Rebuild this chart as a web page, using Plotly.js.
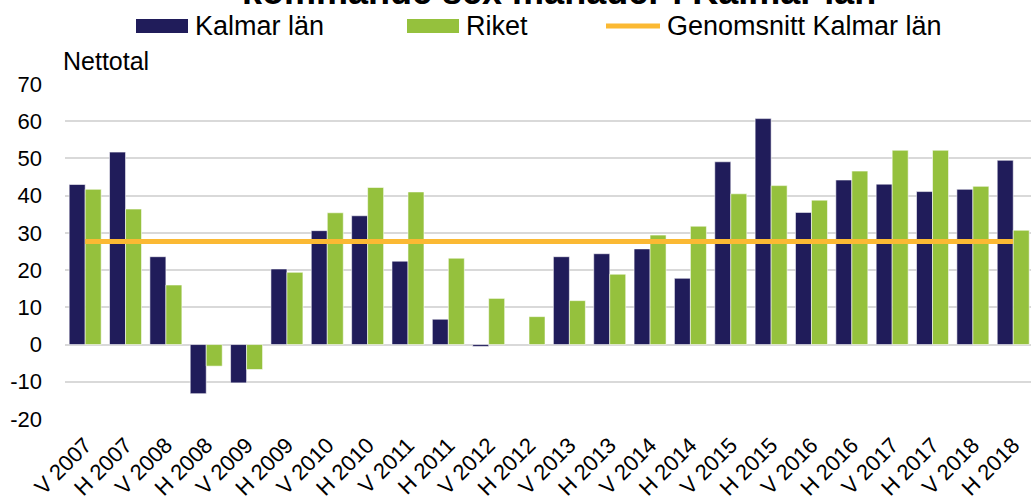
<!DOCTYPE html>
<html>
<head>
<meta charset="utf-8">
<script src="https://cdn.plot.ly/plotly-3.0.1.min.js"></script>
<style>html,body{margin:0;padding:0;background:#fff;}#chart{width:1031px;height:502px;}</style>
</head>
<body>
<div id="chart"></div>
<script>
// ---- data ----
const categories = ["V 2007","H 2007","V 2008","H 2008","V 2009","H 2009","V 2010","H 2010","V 2011","H 2011","V 2012","H 2012","V 2013","H 2013","V 2014","H 2014","V 2015","H 2015","V 2016","H 2016","V 2017","H 2017","V 2018","H 2018"];
const kalmar = [43.0,51.7,23.6,-13.2,-10.3,20.3,30.6,34.6,22.4,6.8,-0.5,null,23.6,24.4,25.7,17.8,49.1,60.7,35.5,44.2,43.1,41.1,41.7,49.5];
const riket  = [41.7,36.4,16.0,-5.8,-6.7,19.4,35.4,42.2,41.0,23.2,12.4,7.5,11.8,18.9,29.4,31.8,40.5,42.7,38.8,46.6,52.2,52.2,42.5,30.7];
const genomsnitt = [27.7,27.7,27.7,27.7,27.7,27.7,27.7,27.7,27.7,27.7,27.7,27.7,27.7,27.7,27.7,27.7,27.7,27.7,27.7,27.7,27.7,27.7,27.7,27.7];
const yTickVals = [-20,-10,0,10,20,30,40,50,60,70];
const yTickText = ["-20","-10","0","10","20","30","40","50","60","70"];
const seriesNames = ["Kalmar län","Riket","Genomsnitt Kalmar län"];
const titleText = "kommande sex månader i Kalmar län";
const yAxisLabel = "Nettotal";

// ---- styling ----
const NAVY = "#201C5A", GREEN = "#95C13D", ORANGE = "#FBB933";
const W = 1031, H = 502, ML = 65, MR = 0, MT = 84, MB = 83;
const PW = W - ML - MR, PH = H - MT - MB;
const px = x => (x - ML) / PW;
const py = y => (H - MB - y) / PH;
const FONT = "Liberation Sans, Arial, sans-serif";

const traces = [
  {type:"bar", name:seriesNames[0], x:categories, y:kalmar, marker:{color:NAVY, line:{color:"rgba(255,255,255,0.7)", width:0.8}}, hoverinfo:"x+y"},
  {type:"bar", name:seriesNames[1], x:categories, y:riket, marker:{color:GREEN, line:{color:"rgba(255,255,255,0.7)", width:0.8}}, hoverinfo:"x+y"},
  {type:"scatter", mode:"lines", name:seriesNames[2], x:categories, y:genomsnitt, line:{color:ORANGE, width:5}, hoverinfo:"x+y"}
];

const legendItems = [
  {kind:"rect", x0:136, x1:188, color:NAVY, tx:193, text:seriesNames[0]},
  {kind:"rect", x0:407, x1:459, color:GREEN, tx:464, text:seriesNames[1]},
  {kind:"line", x0:606, x1:660, color:ORANGE, tx:665, text:seriesNames[2]}
];
const shapes = [], annotations = [];
legendItems.forEach(it => {
  if (it.kind === "rect") {
    shapes.push({type:"rect", xref:"paper", yref:"paper", x0:px(it.x0), x1:px(it.x1), y0:py(33), y1:py(19), fillcolor:it.color, line:{width:0}});
  } else {
    shapes.push({type:"line", xref:"paper", yref:"paper", x0:px(it.x0), x1:px(it.x1), y0:py(26), y1:py(26), line:{color:it.color, width:5}});
  }
  annotations.push({xref:"paper", yref:"paper", x:px(it.tx), y:py(26), xanchor:"left", yanchor:"middle", showarrow:false, text:it.text, font:{family:FONT, size:27, color:"#000"}});
});
annotations.push({xref:"paper", yref:"paper", x:px(61), y:py(61), xanchor:"left", yanchor:"middle", showarrow:false, text:yAxisLabel, font:{family:FONT, size:25, color:"#000"}});
// chart title (only its lower edge is visible in the reference)
annotations.push({xref:"paper", yref:"paper", x:px(559), y:py(14), xanchor:"center", yanchor:"bottom", showarrow:false, text:"<b>"+titleText+"</b>", font:{family:FONT, size:36, color:"#000"}});

const layout = {
  width:W, height:H,
  margin:{l:ML, r:MR, t:MT, b:MB, pad:0},
  paper_bgcolor:"#fff", plot_bgcolor:"#fff",
  showlegend:false,
  barmode:"group", bargap:0.207, bargroupgap:0,
  font:{family:FONT, color:"#000"},
  xaxis:{type:"category", range:[-0.5, (W-ML)/40.35 - 0.5], tickangle:-45, tickfont:{family:FONT, size:22, color:"#000"}, ticks:"", showgrid:false, zeroline:false, showline:false, ticklabelstandoff:8, fixedrange:true},
  yaxis:{range:[-20,70], tickmode:"array", tickvals:yTickVals, ticktext:yTickText, tickfont:{family:FONT, size:22, color:"#000"}, ticks:"", showgrid:true, gridcolor:"#D9D9D9", gridwidth:2, zeroline:true, zerolinecolor:"#D9D9D9", zerolinewidth:2, showline:false, ticklabelstandoff:22, fixedrange:true},
  shapes:shapes, annotations:annotations
};
Plotly.newPlot("chart", traces, layout, {displayModeBar:false, staticPlot:true});
</script>
</body>
</html>
